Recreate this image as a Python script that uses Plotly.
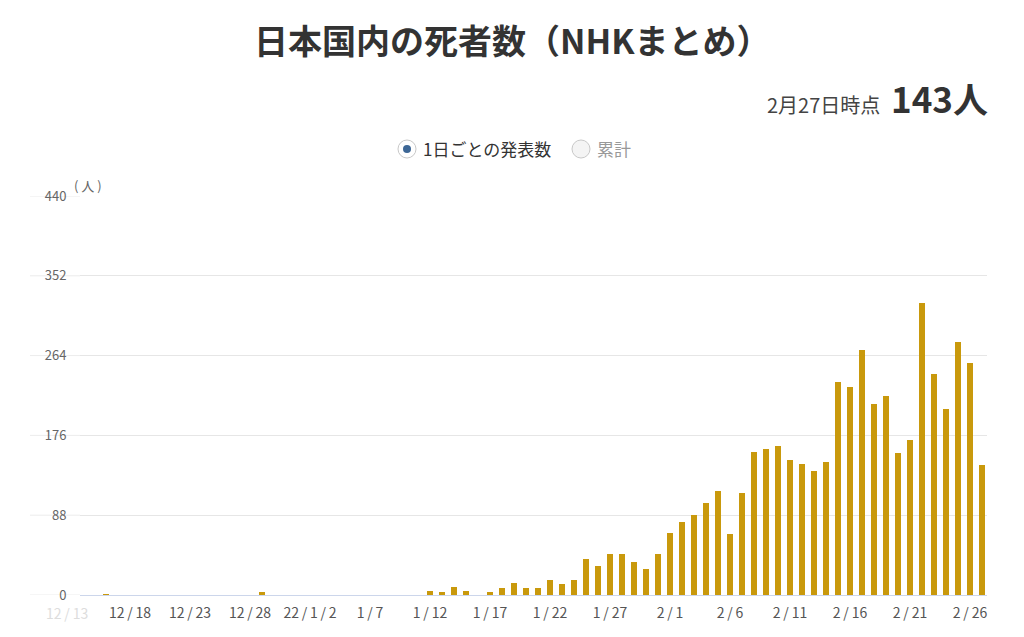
import plotly.graph_objects as go

# ---- data ----
dates = [
    "2021-12-16", "2021-12-29",
    "2022-01-12", "2022-01-13", "2022-01-14", "2022-01-15", "2022-01-16",
    "2022-01-17", "2022-01-18", "2022-01-19", "2022-01-20", "2022-01-21",
    "2022-01-22", "2022-01-23", "2022-01-24", "2022-01-25", "2022-01-26",
    "2022-01-27", "2022-01-28", "2022-01-29", "2022-01-30", "2022-01-31",
    "2022-02-01", "2022-02-02", "2022-02-03", "2022-02-04", "2022-02-05",
    "2022-02-06", "2022-02-07", "2022-02-08", "2022-02-09", "2022-02-10",
    "2022-02-11", "2022-02-12", "2022-02-13", "2022-02-14", "2022-02-15",
    "2022-02-16", "2022-02-17", "2022-02-18", "2022-02-19", "2022-02-20",
    "2022-02-21", "2022-02-22", "2022-02-23", "2022-02-24", "2022-02-25",
    "2022-02-26", "2022-02-27",
]
deaths = [
    1, 3,
    4, 3, 9, 4, 0,
    3, 8, 13, 8, 8,
    16, 12, 17, 40, 32,
    45, 45, 36, 29, 45,
    68, 80, 88, 102, 115,
    67, 112, 158, 161, 164,
    149, 144, 137, 147, 235,
    229, 270, 211, 219, 157,
    171, 322, 244, 205, 279,
    256, 143,
]
tick_dates = ["2021-12-18", "2021-12-23", "2021-12-28", "2022-01-02", "2022-01-07",
              "2022-01-12", "2022-01-17", "2022-01-22", "2022-01-27", "2022-02-01",
              "2022-02-06", "2022-02-11", "2022-02-16", "2022-02-21", "2022-02-26"]
tick_text = ["12/18", "12/23", "12/28", "22/1/2", "1/7", "1/12", "1/17", "1/22",
             "1/27", "2/1", "2/6", "2/11", "2/16", "2/21", "2/26"]
y_ticks = [0, 88, 176, 264, 352, 440]

FONT = "Noto Sans CJK JP"
BAR = "#c9990c"

# plot area in pixels
L, R, T, B = 80, 987, 196, 595
W, H = 1024, 637


def px(x):
    return (x - L) / (R - L)


def py(y):
    return (B - y) / (B - T)


def spaced(t):
    return t.replace("/", "\u2009/\u2009")


fig = go.Figure()
fig.add_trace(go.Bar(
    x=dates, y=deaths,
    marker=dict(color=BAR, line=dict(width=0)),
    width=0.55 * 86400000,
    hoverinfo="x+y",
))

shapes = []
# gridline extensions to the left of the plot area
for v in y_ticks:
    shapes.append(dict(type="line", xref="paper", yref="y",
                       x0=px(30), x1=0, y0=v, y1=v,
                       line=dict(color="#ececec", width=1), layer="below"))
# radio buttons
shapes.append(dict(type="circle", xref="paper", yref="paper",
                   x0=px(398), x1=px(416), y0=py(158), y1=py(140),
                   line=dict(color="#c8c8c8", width=1), fillcolor="#ffffff"))
shapes.append(dict(type="circle", xref="paper", yref="paper",
                   x0=px(403), x1=px(411), y0=py(153), y1=py(145),
                   line=dict(width=0), fillcolor="#3d6796"))
shapes.append(dict(type="circle", xref="paper", yref="paper",
                   x0=px(572), x1=px(590), y0=py(158), y1=py(140),
                   line=dict(color="#c8c8c8", width=1), fillcolor="#f4f4f4"))

annotations = [
    dict(text="<b>日本国内の死者数（NHKまとめ）</b>", xref="paper", yref="paper",
         x=px(512), y=py(39), xanchor="center", yanchor="middle", showarrow=False,
         font=dict(family=FONT, size=34, color="#333333")),
    dict(text="<b>143人</b>", xref="paper", yref="paper",
         x=px(990), y=py(98), xanchor="right", yanchor="middle", showarrow=False,
         font=dict(family=FONT, size=35, color="#333333")),
    dict(text="2月27日時点", xref="paper", yref="paper",
         x=px(882), y=py(104), xanchor="right", yanchor="middle", showarrow=False,
         font=dict(family=FONT, size=20, color="#444444")),
    dict(text="1日ごとの発表数", xref="paper", yref="paper",
         x=px(421), y=py(149), xanchor="left", yanchor="middle", showarrow=False,
         font=dict(family=FONT, size=17, color="#333333")),
    dict(text="累計", xref="paper", yref="paper",
         x=px(595), y=py(149), xanchor="left", yanchor="middle", showarrow=False,
         font=dict(family=FONT, size=17, color="#999999")),
    dict(text="( 人 )", xref="paper", yref="paper",
         x=px(88), y=py(186), xanchor="center", yanchor="middle", showarrow=False,
         font=dict(family=FONT, size=13, color="#666666")),
    dict(text=spaced("12/13"), xref="paper", yref="paper",
         x=px(67), y=py(613), xanchor="center", yanchor="middle", showarrow=False,
         font=dict(family=FONT, size=14, color="#dddddd")),
]

fig.update_layout(
    width=W, height=H,
    margin=dict(l=L, r=W - R, t=T, b=H - B, pad=0),
    paper_bgcolor="#ffffff", plot_bgcolor="#ffffff",
    showlegend=False,
    bargap=0,
    font=dict(family=FONT, color="#555555"),
    shapes=shapes,
    annotations=annotations,
    xaxis=dict(
        type="date",
        range=["2021-12-13 20:00", "2022-02-27 10:00"],
        tickmode="array", tickvals=tick_dates, ticktext=[spaced(t) for t in tick_text],
        ticks="outside", ticklen=5, tickcolor="rgba(0,0,0,0)",
        tickfont=dict(family=FONT, size=14, color="#555555"),
        showgrid=False, zeroline=False,
        showline=True, linecolor="#ccd6eb", linewidth=1,
        fixedrange=True,
    ),
    yaxis=dict(
        range=[0, 440],
        tickmode="array", tickvals=y_ticks,
        ticks="outside", ticklen=10, tickcolor="rgba(0,0,0,0)",
        tickfont=dict(family=FONT, size=13, color="#666666"),
        showgrid=True, gridcolor="#e6e6e6", gridwidth=1,
        zeroline=False, showline=False,
        fixedrange=True,
    ),
)

fig.write_html("out.html")
